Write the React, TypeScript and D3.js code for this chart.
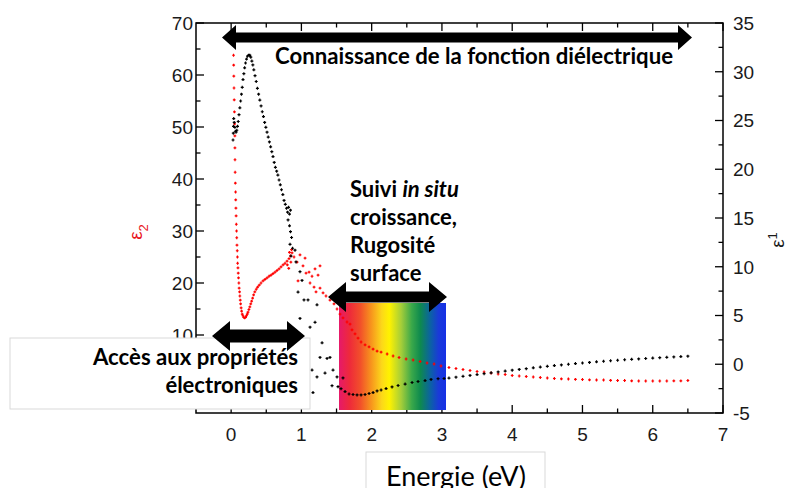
import React from "react";
import * as d3 from "d3";

const W = 790;
const H = 488;

const xMajorTicks = [0, 1, 2, 3, 4, 5, 6, 7];
const xMinorTicks = [0.5, 1.5, 2.5, 3.5, 4.5, 5.5, 6.5];
const leftMajorTicks = [0, 10, 20, 30, 40, 50, 60, 70];
const leftMinorTicks = [5, 15, 25, 35, 45, 55, 65];
const rightMajorTicks = [-5, 0, 5, 10, 15, 20, 25, 30, 35];
const rightMinorTicks = [-2.5, 2.5, 7.5, 12.5, 17.5, 22.5, 27.5, 32.5];

// epsilon 2 (left axis, red): [energy eV, value]
const epsilon2Data: [number, number][] = [
  [0.034, 63.8], [0.036, 61.9], [0.038, 59.8], [0.041, 57.5], [0.044, 55.2], [0.047, 52.9],
  [0.05, 50.6], [0.053, 48.3], [0.054, 46.0], [0.055, 43.7], [0.057, 41.3], [0.06, 39.2],
  [0.063, 37.5], [0.065, 36.0], [0.068, 34.4], [0.071, 32.9], [0.074, 31.3], [0.077, 30.0],
  [0.08, 28.7], [0.083, 27.3], [0.087, 26.2], [0.09, 25.0], [0.092, 23.8], [0.097, 22.9],
  [0.101, 21.9], [0.105, 21.0], [0.11, 20.0], [0.114, 19.0], [0.12, 18.3], [0.124, 17.5],
  [0.13, 16.7], [0.135, 16.0], [0.142, 15.2], [0.149, 14.6], [0.158, 14.0], [0.168, 13.7],
  [0.179, 13.4], [0.192, 13.3], [0.205, 13.4], [0.218, 13.7], [0.229, 14.0], [0.24, 14.4],
  [0.253, 14.9], [0.266, 15.4], [0.279, 16.0], [0.292, 16.5], [0.306, 17.1], [0.32, 17.7],
  [0.337, 18.3], [0.357, 18.8], [0.377, 19.2], [0.4, 19.6], [0.425, 20.0], [0.454, 20.4],
  [0.482, 20.7], [0.511, 21.0], [0.539, 21.3], [0.568, 21.5], [0.596, 21.8], [0.625, 22.1],
  [0.653, 22.4], [0.682, 22.7], [0.71, 23.1], [0.739, 23.5], [0.767, 23.8], [0.796, 24.2],
  [0.824, 24.7], [0.845, 25.2], [0.867, 25.8], [0.8, 23.5], [0.83, 25.9], [0.85, 24.0],
  [0.86, 26.4], [0.82, 22.8],
  [0.895, 25.0], [0.938, 24.0], [0.98, 25.4], [1.023, 23.3], [1.052, 24.8], [1.066, 21.9],
  [0.952, 20.4], [1.109, 22.1], [1.151, 21.3], [1.194, 22.7], [1.237, 21.5], [1.265, 23.3],
  [1.123, 20.0], [1.18, 19.2], [1.208, 18.3], [1.265, 19.0], [1.308, 18.1], [1.35, 17.5],
  [1.407, 16.7], [1.464, 16.0], [1.507, 15.0], [1.55, 14.0], [1.592, 13.3], [1.649, 12.5],
  [1.692, 12.1], [1.72, 11.0], [1.763, 10.2], [1.806, 9.4], [1.849, 8.65], [1.906, 8.1],
  [1.963, 7.7], [2.02, 7.3], [2.077, 6.9], [2.134, 6.7], [2.22, 6.35], [2.305, 5.96],
  [2.39, 5.67], [2.49, 5.38], [2.59, 5.19], [2.69, 4.9], [2.788, 4.62], [2.888, 4.42],
  [2.987, 4.04], [3.1, 3.75], [3.2, 3.56], [3.3, 3.37], [3.4, 3.17], [3.5, 2.98], [3.6, 2.88],
  [3.7, 2.69], [3.8, 2.5], [3.9, 2.4], [4.0, 2.21], [4.1, 2.12], [4.2, 2.02], [4.3, 1.92],
  [4.4, 1.83], [4.5, 1.73], [4.6, 1.63], [4.7, 1.58], [4.8, 1.54], [4.9, 1.48], [5.0, 1.44],
  [5.1, 1.38], [5.2, 1.35], [5.3, 1.35], [5.4, 1.29], [5.5, 1.25], [5.6, 1.25], [5.7, 1.19],
  [5.8, 1.15], [5.9, 1.15], [6.0, 1.15], [6.1, 1.15], [6.2, 1.15], [6.3, 1.19], [6.4, 1.19],
  [6.5, 1.25],
];

// epsilon 1 (right axis, black): [energy eV, value]
const epsilon1Data: [number, number][] = [
  [0.027, 23.0], [0.031, 23.7], [0.034, 24.4], [0.037, 25.2], [0.044, 24.8], [0.053, 24.3],
  [0.061, 23.9], [0.07, 23.8], [0.081, 24.0], [0.091, 24.4], [0.101, 24.9], [0.112, 25.6],
  [0.124, 26.3], [0.135, 27.0], [0.147, 27.7], [0.158, 28.4], [0.169, 29.2], [0.181, 29.8],
  [0.192, 30.4], [0.205, 30.9], [0.219, 31.3], [0.233, 31.6], [0.249, 31.7], [0.265, 31.7],
  [0.28, 31.5], [0.295, 31.1], [0.309, 30.7], [0.323, 30.2], [0.34, 29.6], [0.357, 29.0],
  [0.374, 28.3], [0.391, 27.7], [0.408, 27.1], [0.426, 26.5], [0.443, 25.9], [0.46, 25.4],
  [0.477, 24.8], [0.494, 24.3], [0.511, 23.8], [0.528, 23.3], [0.545, 22.8], [0.562, 22.3],
  [0.579, 21.8], [0.596, 21.3], [0.613, 20.7], [0.63, 20.2], [0.648, 19.8], [0.665, 19.4],
  [0.682, 18.9], [0.7, 18.4], [0.717, 17.9], [0.736, 17.4], [0.753, 16.8], [0.771, 16.4],
  [0.788, 16.0], [0.803, 15.6], [0.817, 16.1], [0.831, 15.4], [0.845, 15.8], [0.81, 14.8],
  [0.831, 14.2], [0.845, 13.6], [0.86, 13.0], [0.838, 12.3], [0.874, 11.9], [0.909, 11.7],
  [0.852, 11.1], [0.923, 10.5], [0.98, 9.5], [1.009, 8.6], [0.952, 7.4], [1.037, 6.6],
  [1.094, 6.6], [1.222, 6.1], [0.98, 4.7], [1.123, 3.8], [1.194, 4.3], [1.052, 2.5],
  [1.294, 2.2], [1.265, 0.7], [1.365, 0.6], [1.407, 0.7], [1.151, -0.6], [1.222, -1.3],
  [1.336, -0.9], [1.45, -0.6], [1.507, -1.3], [1.165, -2.9], [1.436, -2.2], [1.521, -2.3],
  [1.592, -1.4], [1.564, -2.5], [1.621, -2.8], [1.678, -3.05], [1.735, -3.1], [1.792, -3.15],
  [1.849, -3.15], [1.906, -3.1], [1.963, -3.0], [2.02, -2.9], [2.077, -2.74], [2.134, -2.64],
  [2.205, -2.49], [2.29, -2.33], [2.376, -2.18], [2.476, -2.03], [2.575, -1.87], [2.66, -1.77],
  [2.76, -1.67], [2.845, -1.56], [2.945, -1.48], [3.03, -1.46], [3.1, -1.42], [3.2, -1.33],
  [3.3, -1.24], [3.4, -1.15], [3.5, -1.06], [3.6, -0.97], [3.7, -0.88], [3.8, -0.79],
  [3.9, -0.7], [4.0, -0.61], [4.1, -0.53], [4.2, -0.45], [4.3, -0.37], [4.4, -0.29],
  [4.5, -0.21], [4.6, -0.14], [4.7, -0.07], [4.8, 0.0], [4.9, 0.07], [5.0, 0.13], [5.1, 0.19],
  [5.2, 0.25], [5.3, 0.31], [5.4, 0.36], [5.5, 0.41], [5.6, 0.46], [5.7, 0.51], [5.8, 0.55],
  [5.9, 0.59], [6.0, 0.63], [6.1, 0.67], [6.2, 0.71], [6.3, 0.75], [6.4, 0.79], [6.5, 0.83],
];

const spectrumStops: [number, string][] = [
  [0, "#e6196a"], [0.1, "#ee2a3a"], [0.2, "#f2502a"], [0.3, "#f7941d"], [0.4, "#fcd81a"],
  [0.47, "#fff200"], [0.58, "#a6ce39"], [0.68, "#3aa84a"], [0.76, "#0e8a4e"], [0.86, "#0c5fa8"],
  [0.93, "#1a3ad8"], [1, "#1530e6"],
];

const LEFT = 196, RIGHT = 723, TOP = 23, BOTTOM = 413;
const AX_FONT = "'Liberation Sans', Arial, sans-serif";
const NOTE_FONT = "Lato, 'Open Sans', sans-serif";

function dblArrow(x1: number, x2: number, cy: number, sh: number, hh: number, hl: number) {
  return `M${x1},${cy} L${x1 + hl},${cy - hh} L${x1 + hl},${cy - sh} L${x2 - hl},${cy - sh} L${x2 - hl},${cy - hh} L${x2},${cy} L${x2 - hl},${cy + hh} L${x2 - hl},${cy + sh} L${x1 + hl},${cy + sh} L${x1 + hl},${cy + hh} Z`;
}

function plusPath(pts: [number, number][], s: number) {
  return pts
    .map(([px, py]) => `M${px - s},${py}H${px + s}M${px},${py - s}V${py + s}`)
    .join("");
}

export default function App() {
  const x = d3.scaleLinear().domain([-0.5, 7]).range([LEFT, RIGHT]);
  const yL = d3.scaleLinear().domain([-5, 70]).range([BOTTOM, TOP]);
  const yR = d3.scaleLinear().domain([-5, 35]).range([BOTTOM, TOP]);

  const MAJ = 8, MIN = 4.5;
  const redPts = epsilon2Data.map(([e, v]) => [x(e), yL(v)] as [number, number]);
  const blackPts = epsilon1Data.map(([e, v]) => [x(e), yR(v)] as [number, number]);

  return (
    <svg width={W} height={H} style={{ position: "absolute", left: 0, top: 0, background: "#fff" }}>
      <defs>
        <linearGradient id="spectrum" x1="0" x2="1" y1="0" y2="0">
          {spectrumStops.map(([o, c], i) => (
            <stop key={i} offset={o} stopColor={c} />
          ))}
        </linearGradient>
      </defs>
      <rect x={0} y={0} width={W} height={H} fill="#fff" />

      {/* frame */}
      <rect x={LEFT} y={TOP} width={RIGHT - LEFT} height={BOTTOM - TOP} fill="none" stroke="#000" strokeWidth={1.5} />

      {/* x ticks bottom & top */}
      {xMajorTicks.map((t) => (
        <g key={"xm" + t}>
          <line x1={x(t)} x2={x(t)} y1={BOTTOM} y2={BOTTOM - MAJ} stroke="#000" strokeWidth={1.3} />
          <line x1={x(t)} x2={x(t)} y1={TOP} y2={TOP + MAJ} stroke="#000" strokeWidth={1.3} />
          <text x={x(t)} y={441} textAnchor="middle" fontFamily={AX_FONT} fontSize={19} fill="#1a1a1a">
            {t}
          </text>
        </g>
      ))}
      {xMinorTicks.map((t) => (
        <g key={"xn" + t}>
          <line x1={x(t)} x2={x(t)} y1={BOTTOM} y2={BOTTOM - MIN} stroke="#000" strokeWidth={1.3} />
          <line x1={x(t)} x2={x(t)} y1={TOP} y2={TOP + MIN} stroke="#000" strokeWidth={1.3} />
        </g>
      ))}

      {/* left ticks (the 0 label is hidden behind the annotation box in the original) */}
      {leftMajorTicks.map((t) => (
        <g key={"lm" + t}>
          <line x1={LEFT} x2={LEFT + MAJ} y1={yL(t)} y2={yL(t)} stroke="#000" strokeWidth={1.3} />
          {t !== 0 && (
            <text x={193} y={yL(t)} dy="0.36em" textAnchor="end" fontFamily={AX_FONT} fontSize={19} fill="#1a1a1a">
              {t}
            </text>
          )}
        </g>
      ))}
      {leftMinorTicks.map((t) => (
        <line key={"ln" + t} x1={LEFT} x2={LEFT + MIN} y1={yL(t)} y2={yL(t)} stroke="#000" strokeWidth={1.3} />
      ))}

      {/* right ticks */}
      {rightMajorTicks.map((t) => (
        <g key={"rm" + t}>
          <line x1={RIGHT} x2={RIGHT - MAJ} y1={yR(t)} y2={yR(t)} stroke="#000" strokeWidth={1.3} />
          <text x={733} y={yR(t)} dy="0.36em" textAnchor="start" fontFamily={AX_FONT} fontSize={19} fill="#1a1a1a">
            {t}
          </text>
        </g>
      ))}
      {rightMinorTicks.map((t) => (
        <line key={"rn" + t} x1={RIGHT} x2={RIGHT - MIN} y1={yR(t)} y2={yR(t)} stroke="#000" strokeWidth={1.3} />
      ))}

      {/* axis titles */}
      <text transform="translate(142,232) rotate(-90)" textAnchor="middle" fontFamily={AX_FONT} fontSize={19} fill="#e8141b">
        ε<tspan fontSize={13} dy={6}>2</tspan>
      </text>
      <text transform="translate(784,240) rotate(-90)" textAnchor="middle" fontFamily={AX_FONT} fontSize={19} fill="#1a1a1a">
        ε<tspan fontSize={13} dy={-7}>1</tspan>
      </text>

      {/* spectrum band */}
      <rect x={339} y={303} width={107} height={107} fill="url(#spectrum)" />

      {/* data */}
      <path d={plusPath(redPts, 1.4)} stroke="#ff0000" strokeWidth={1.2} fill="none" />
      <path d={plusPath(blackPts, 1.5)} stroke="#000" strokeWidth={1.2} fill="none" />

      {/* annotation: dielectric function */}
      <path d={dblArrow(222, 692, 37.5, 5, 12.5, 14)} fill="#000" />
      <text x={275} y={64} fontFamily={NOTE_FONT} fontWeight={700} fontSize={22} textLength={398} lengthAdjust="spacingAndGlyphs" fill="#000">
        Connaissance de la fonction diélectrique
      </text>

      {/* annotation: electronic properties */}
      <rect x={10} y={338} width={300} height={71} fill="#fff" stroke="#d9d9d9" strokeWidth={1} />
      <path d={dblArrow(212, 305, 336, 6.5, 15, 18)} fill="#000" />
      <text x={93} y={365} fontFamily={NOTE_FONT} fontWeight={700} fontSize={22} textLength={205} lengthAdjust="spacingAndGlyphs" fill="#000">
        Accès aux propriétés
      </text>
      <text x={298} y={393} textAnchor="end" fontFamily={NOTE_FONT} fontWeight={700} fontSize={22} fill="#000">
        électroniques
      </text>

      {/* annotation: in situ */}
      <path d={dblArrow(328, 447, 297, 5.5, 15, 18)} fill="#000" />
      <g fontFamily={NOTE_FONT} fontWeight={700} fontSize={22} fill="#000">
        <text x={350} y={197}>
          Suivi <tspan fontStyle="italic">in situ</tspan>
        </text>
        <text x={350} y={225}>croissance,</text>
        <text x={350} y={253}>Rugosité</text>
        <text x={350} y={281}>surface</text>
      </g>

      {/* x axis title */}
      <rect x={366} y={452} width={179} height={45} fill="#fff" stroke="#d9d9d9" strokeWidth={1} />
      <text x={456} y={486} textAnchor="middle" fontFamily={NOTE_FONT} fontSize={27} fill="#000">
        Energie (eV)
      </text>
    </svg>
  );
}
